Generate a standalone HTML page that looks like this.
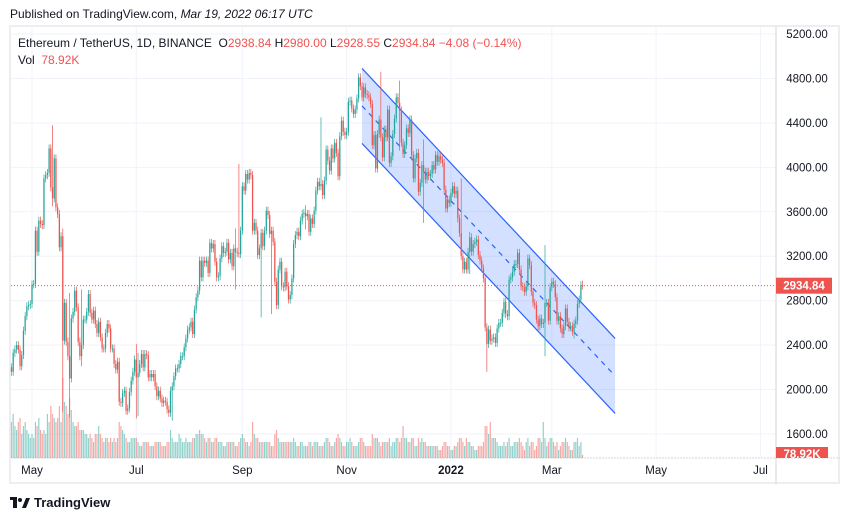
<!DOCTYPE html>
<html><head><meta charset="utf-8">
<style>
body{margin:0;width:850px;height:521px;background:#fff;font-family:"Liberation Sans",sans-serif;overflow:hidden;position:relative}
#pub{position:absolute;left:10px;top:7px;font-size:12px;color:#131722}
#frame{position:absolute;left:9px;top:25px;width:831px;height:459px;border:2px solid #eceef2;box-sizing:border-box}
#legend{position:absolute;left:18px;top:35px;font-size:12px;color:#131722;line-height:17px}
.r{color:#ef5350}
#logo{position:absolute;left:10px;top:495px;font-size:13px;color:#131722;font-weight:bold;display:flex;align-items:center;gap:4px}
</style></head><body>
<div id="pub">Published on TradingView.com, <i>Mar 19, 2022 06:17 UTC</i></div>
<div id="frame"></div>
<svg id="chart" width="850" height="521" style="position:absolute;left:0;top:0"></svg>
<div id="legend">
<div>Ethereum / TetherUS, 1D, BINANCE&nbsp;&nbsp;O<span class="r">2938.84</span>&nbsp;H<span class="r">2980.00</span>&nbsp;L<span class="r">2928.55</span>&nbsp;C<span class="r">2934.84</span>&nbsp;<span class="r">−4.08 (−0.14%)</span></div>
<div>Vol&nbsp;&nbsp;<span class="r">78.92K</span></div>
</div>
<div id="logo"><svg width="20" height="12" viewBox="0 0 20 12"><rect x="0" y="0" width="7" height="3" fill="#131722"/><rect x="3" y="3" width="4" height="8" fill="#131722"/><circle cx="10" cy="3" r="2" fill="#131722"/><polygon points="12,11 16,1 20,1 16,11" fill="#131722"/></svg>TradingView</div>
<script>
const priceTicks=[5200,4800,4400,4000,3600,3200,2800,2400,2000,1600];
const monthLabels=["May","Jul","Sep","Nov","2022","Mar","May","Jul"];
const monthDays=[0,61,123,184,245,304,365,426];
const closes=[
2160,2330,2360,2400,2360,2210,2310,2530,2660,2750,2760,2770,
2945,2950,3430,3240,3520,3490,3480,3900,3930,3950,4170,3820,3720,4080,3640,3580,3280,3380,2440,2780,2430,2300,2100,2640,2700,2890,2740,2430,2300,2400,2630,
2630,2700,2860,2690,2630,2710,2590,2510,2610,2470,2370,2370,2510,2590,2550,2370,2370,2230,2180,2250,1890,1880,1970,1990,1810,1830,1980,2080,2160,2270,
2110,2150,2230,2320,2200,2320,2310,2110,2140,2110,2140,2030,1940,1990,1920,1880,1900,1890,1820,1790,1990,2030,2120,2190,2190,2230,2300,2300,2380,2460,2540,
2560,2610,2500,2720,2830,2890,3160,3010,3160,3140,3160,3050,3320,3270,3310,3150,3010,3020,3180,3290,3230,3240,3320,3170,3230,3110,3270,3240,3230,3220,3430,
3830,3790,3940,3890,3950,3930,3430,3500,3430,3210,3270,3410,3290,3430,3610,3570,3400,3430,3330,2970,2760,3080,3150,2930,2920,3060,2930,2810,2850,3000,
3310,3390,3420,3380,3520,3580,3590,3560,3580,3420,3540,3490,3610,3790,3870,3830,3850,3750,3880,4160,4060,3970,4170,4080,4220,4130,3920,4280,4420,4320,4290,
4320,4590,4600,4530,4480,4520,4620,4810,4730,4630,4720,4660,4650,4630,4570,4200,4290,3990,4300,4430,4270,4090,4340,4270,4520,4040,4100,4300,4440,4630,
4580,4510,4220,4120,4200,4350,4310,4430,4110,3900,4080,4130,3780,3860,4020,3960,3890,3960,3920,3940,4020,3980,4110,4050,4100,4070,4040,3800,3630,3710,3680,
3770,3830,3760,3790,3540,3410,3200,3080,3150,3080,3240,3370,3240,3310,3330,3350,3210,3160,3090,3000,2560,2410,2540,2440,2460,2470,2420,2550,2600,2600,2690,
2790,2680,2660,2990,3010,3060,3130,3130,3230,3080,2930,2920,2880,2930,3180,3120,2880,2780,2760,2630,2570,2640,2590,2600,2780,2780,2620,2920,
2970,2950,2830,2620,2660,2550,2500,2570,2730,2610,2560,2570,2520,2590,2620,2770,2810,2938.84,2934.84];
const volumes=[
900,1100,800,700,900,1000,600,800,900,700,600,500,
600,500,900,800,1000,700,600,700,600,1100,900,1300,1100,1000,900,1000,1300,900,2000,1400,1300,1100,1500,1200,900,800,800,900,700,700,700,
600,600,500,600,500,400,600,600,800,600,500,400,500,500,400,500,400,500,400,500,900,800,700,600,500,400,400,500,500,500,
500,400,300,300,400,400,400,400,300,300,300,400,400,400,400,300,300,300,400,400,700,500,400,400,400,600,500,400,400,500,400,
400,400,500,500,600,600,700,600,600,500,400,500,500,400,400,500,500,400,400,400,300,300,400,400,400,400,400,300,300,400,500,
600,500,400,400,300,400,900,600,500,500,400,400,400,400,400,400,400,300,300,600,700,500,400,400,400,400,400,400,400,400,
500,400,300,300,400,400,300,300,300,400,400,300,400,400,400,300,300,300,400,500,500,400,300,300,400,500,600,500,400,300,300,
400,400,500,400,300,300,300,400,500,500,400,300,300,300,300,600,500,500,500,400,300,400,400,400,400,500,300,400,400,500,
500,400,500,800,500,500,400,400,500,500,300,300,500,400,500,400,400,300,300,300,300,300,300,300,200,200,300,400,400,300,300,
200,200,300,300,400,500,500,400,300,500,400,400,300,300,200,200,300,300,300,400,800,800,600,900,500,500,500,400,300,300,300,
400,300,400,500,300,300,400,400,400,500,400,300,200,400,500,300,400,400,200,300,500,500,400,900,500,300,400,500,
500,400,300,400,200,300,400,400,500,400,300,200,200,400,400,500,300,400,78.92];
// notable wick extremes: candle index, high, low
const spikeIdx=[24,30,34,41,73,74,94,131,133,146,152,172,181,216,227,241,263,268,278,312,329,334];
const spikeHigh=[4380,3450,2870,2900,2410,2330,1900,3450,4030,3100,2950,3660,4450,4860,4780,4250,3900,3420,2280,3300,2630,2980];
const spikeLow=[3650,1800,1750,2210,1740,1760,1720,2900,3860,2650,2680,3440,4030,4450,4150,3500,3680,3040,2160,2300,2460,2928.55];
const firstOpen=2200;
const startDay=-12; // Apr 19 2021 relative to May 1 2021
const lastPrice=2934.84;
const channelStart={day:193,upper:4890,lower:4215};
const channelEnd={day:341,upper:2460,lower:1785};

const NS="http://www.w3.org/2000/svg";
const svg=document.getElementById('chart');
const X0=11,X1=776,Y0=27,Y1=458;
function xd(d){return 32+d*1.71;}
function yp(p){return 34+(5200-p)*0.11111;}
function yv(v){return Y1-v*0.04;}
function mk(t,a,parent){const e=document.createElementNS(NS,t);for(const k in a)e.setAttribute(k,a[k]);(parent||svg).appendChild(e);return e;}

priceTicks.forEach(p=>{
  const g=mk('line',{x1:X0,x2:X1,y1:yp(p),y2:yp(p),stroke:'#f0f3fa'});
  
  
  const t=mk('text',{x:807,y:yp(p)+4,'text-anchor':'middle','font-size':11.5,fill:'#131722','font-family':'Liberation Sans'});
  t.textContent=p.toFixed(2);
  
  
});
monthLabels.forEach((m,i)=>{
  const x=xd(monthDays[i]);
  const g=mk('line',{x1:x,x2:x,y1:Y0,y2:Y1,stroke:'#f0f3fa'});
  
  
  const t=mk('text',{x:x,y:474,'text-anchor':'middle','font-size':11.5,fill:'#131722','font-family':'Liberation Sans','font-weight':m==='2022'?'bold':'normal'});
  t.textContent=m;
  
  
});
let a1=mk('line',{x1:X1,x2:X1,y1:Y0,y2:484,stroke:'#d1d4dc'});


let a2=mk('line',{x1:X0,x2:840,y1:Y1,y2:Y1,stroke:'#d1d4dc','stroke-dasharray':'2,1'});



const cx1=xd(channelStart.day),cx2=xd(channelEnd.day);
const chan=mk('polygon',{points:`${cx1},${yp(channelStart.upper)} ${cx2},${yp(channelEnd.upper)} ${cx2},${yp(channelEnd.lower)} ${cx1},${yp(channelStart.lower)}`,fill:'rgba(41,98,255,0.2)'});


[['upper','channel-upper-line'],['lower','channel-lower-line']].forEach(([k,n])=>{
  const l=mk('line',{x1:cx1,y1:yp(channelStart[k]),x2:cx2,y2:yp(channelEnd[k]),stroke:'#2962ff','stroke-width':1.2});
  
  
});
const mid=mk('line',{x1:cx1,y1:yp((channelStart.upper+channelStart.lower)/2),x2:cx2,y2:yp((channelEnd.upper+channelEnd.lower)/2),stroke:'#2962ff','stroke-width':1.2,'stroke-dasharray':'5,5'});



volumes.forEach((v,i)=>{
  const o=i?closes[i-1]:firstOpen,c=closes[i];
  const x=xd(startDay+i);
  const r=mk('rect',{x:x-0.6,y:yv(v),width:1.2,height:Y1-yv(v),fill:c>=o?'rgba(38,166,154,0.5)':'rgba(239,83,80,0.5)'});
  
  
});
closes.forEach((c,i)=>{
  const o=i?closes[i-1]:firstOpen;
  const x=xd(startDay+i);
  const col=c>=o?'#26a69a':'#ef5350';
  const top=yp(Math.max(o,c)),bot=yp(Math.min(o,c));
  let wt=top-4,wb=bot+4;
  const s=spikeIdx.indexOf(i);
  if(s>=0){wt=Math.min(wt,yp(spikeHigh[s]));wb=Math.max(wb,yp(spikeLow[s]));}
  const w=mk('line',{x1:x,x2:x,y1:wt,y2:wb,stroke:col,'stroke-width':0.7});
  
  
  const b=mk('rect',{x:x-0.65,y:top,width:1.3,height:Math.max(1,bot-top),fill:col});
  
  
});
const ly=yp(lastPrice);
const pl=mk('line',{x1:X0,x2:X1,y1:ly,y2:ly,stroke:'#ef5350','stroke-dasharray':'1,2'});


const pb=mk('rect',{x:X1,y:ly-8,width:56,height:16,fill:'#ef5350'});


const pt=mk('text',{x:X1+28,y:ly+4,'text-anchor':'middle','font-size':11.5,'font-weight':'bold',fill:'#fff','font-family':'Liberation Sans'});
pt.textContent=lastPrice.toFixed(2);


const vb=mk('rect',{x:X1,y:447,width:52,height:11,fill:'#ef5350'});


const vt=mk('text',{x:X1+26,y:458,'text-anchor':'middle','font-size':11.5,'font-weight':'bold',fill:'#fff','font-family':'Liberation Sans'});
vt.textContent='78.92K';


</script>
</body></html>
